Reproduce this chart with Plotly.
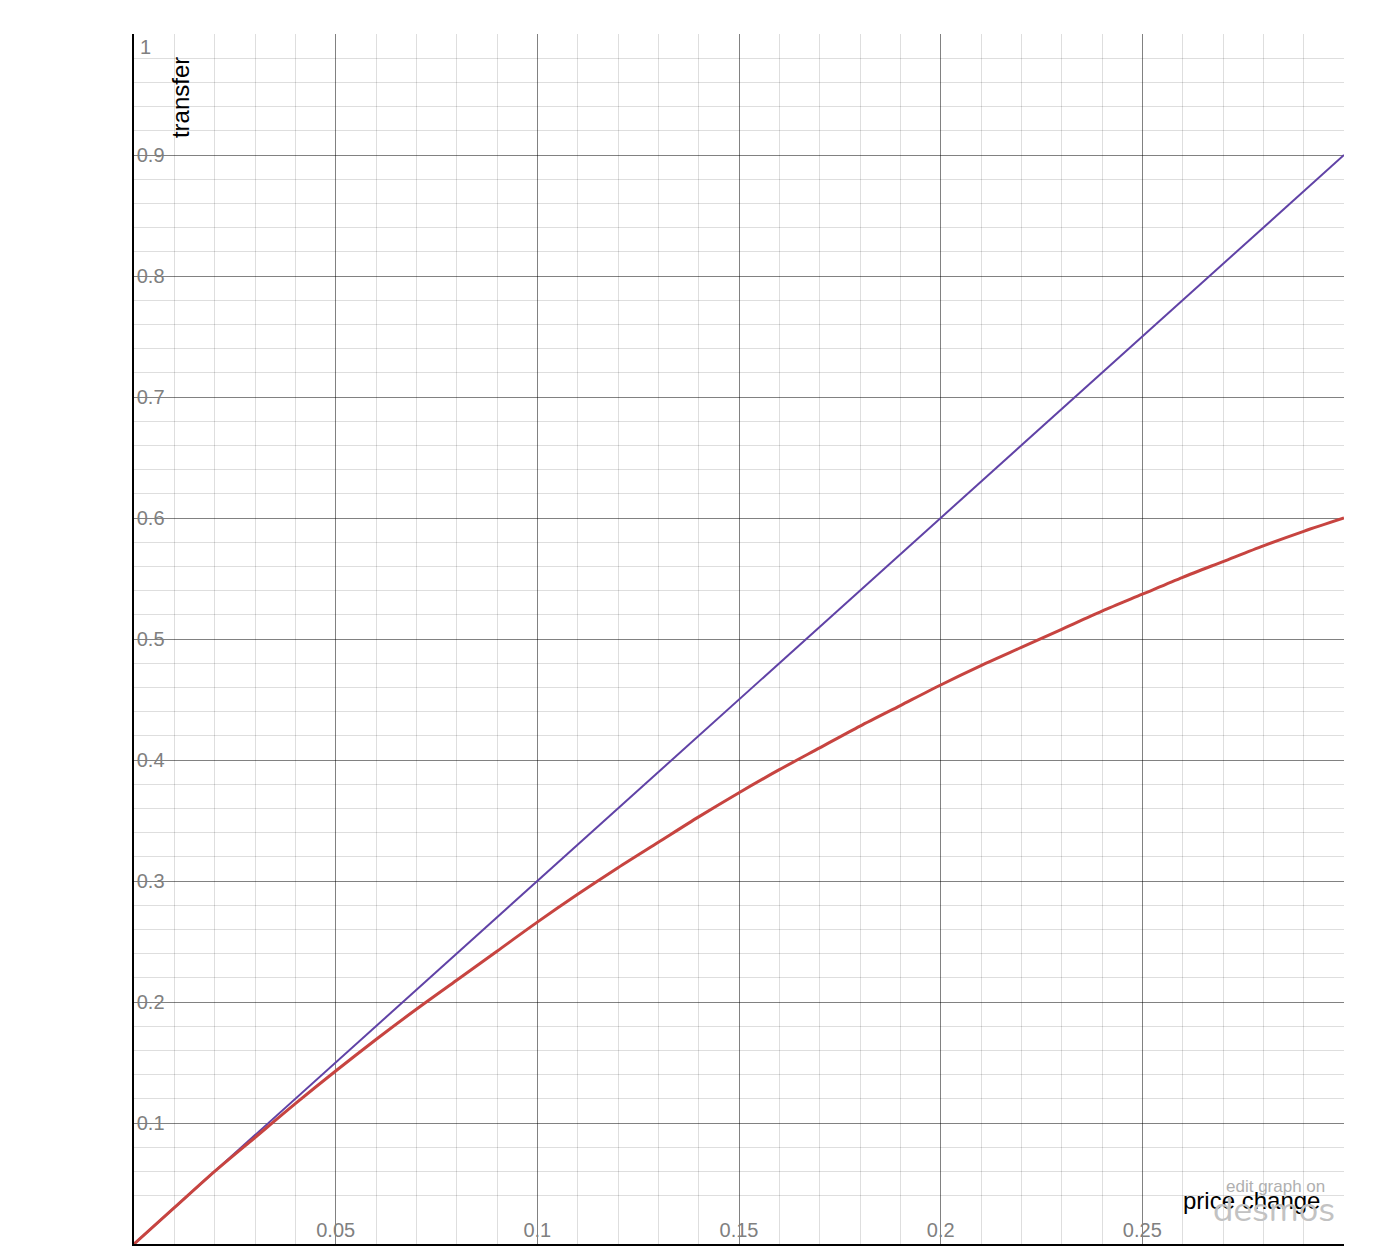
import plotly.graph_objects as go

# Data
red_x = [0.00, 0.01, 0.02, 0.03, 0.04, 0.05, 0.06, 0.07, 0.08, 0.09, 0.10,
         0.11, 0.12, 0.13, 0.14, 0.15, 0.16, 0.17, 0.18, 0.19, 0.20,
         0.21, 0.22, 0.23, 0.24, 0.25, 0.26, 0.27, 0.28, 0.29, 0.30]
red_y = [0.000, 0.030, 0.060, 0.088, 0.116, 0.143, 0.169, 0.194, 0.218, 0.242, 0.266,
         0.289, 0.311, 0.332, 0.353, 0.373, 0.392, 0.410, 0.428, 0.445, 0.462,
         0.478, 0.493, 0.508, 0.523, 0.537, 0.551, 0.564, 0.577, 0.589, 0.600]
blue_x = [0.0, 0.1, 0.2, 0.3]
blue_y = [0.0, 0.3, 0.6, 0.9]

x_ticks = [0.05, 0.10, 0.15, 0.20, 0.25]
x_labels = ["0.05", "0.1", "0.15", "0.2", "0.25"]
y_ticks = [0.1, 0.2, 0.3, 0.4, 0.5, 0.6, 0.7, 0.8, 0.9]
y_labels = ["0.1", "0.2", "0.3", "0.4", "0.5", "0.6", "0.7", "0.8", "0.9"]

FONT = "Arial, Liberation Sans, sans-serif"
MAJOR = "rgba(0,0,0,0.42)"
MINOR = "rgba(0,0,0,0.13)"
TICKC = "#808080"

fig = go.Figure()
fig.add_trace(go.Scatter(x=blue_x, y=blue_y, mode="lines",
                         line=dict(color="#6042a6", width=2), hoverinfo="skip"))
fig.add_trace(go.Scatter(x=red_x, y=red_y, mode="lines", line_shape="spline",
                         line=dict(color="#c74440", width=3, smoothing=0.8),
                         hoverinfo="skip"))

fig.update_layout(
    width=1400, height=1260,
    margin=dict(l=126, r=64, t=26, b=24),
    paper_bgcolor="white", plot_bgcolor="white",
    showlegend=False,
    font=dict(family=FONT),
    xaxis=dict(range=[0, 0.3], tickmode="array", tickvals=x_ticks, ticktext=x_labels,
               ticklabelposition="inside", ticks="", ticklabelstandoff=4,
               tickfont=dict(size=20, color=TICKC),
               showgrid=True, gridcolor=MAJOR, gridwidth=1,
               minor=dict(tickmode="linear", tick0=0, dtick=0.01, showgrid=True,
                          gridcolor=MINOR, gridwidth=1),
               zeroline=False, showline=True, linecolor="black", linewidth=1.5,
               fixedrange=True),
    yaxis=dict(range=[0, 1], tickmode="array", tickvals=y_ticks, ticktext=y_labels,
               ticklabelposition="inside", ticks="", ticklabelstandoff=4,
               tickfont=dict(size=20, color=TICKC),
               showgrid=True, gridcolor=MAJOR, gridwidth=1,
               minor=dict(tickmode="linear", tick0=0, dtick=0.02, showgrid=True,
                          gridcolor=MINOR, gridwidth=1),
               zeroline=False, showline=True, linecolor="black", linewidth=1.5,
               fixedrange=True),
)

fig.add_annotation(x=0.0, y=0.989, xref="x", yref="y", text="1", showarrow=False,
                   xanchor="left", yanchor="middle", xshift=4,
                   font=dict(size=20, color=TICKC, family=FONT))
fig.add_annotation(x=0.0114, y=0.983, xref="x", yref="y", text="transfer", showarrow=False,
                   textangle=-90, xanchor="center", yanchor="top",
                   font=dict(size=24, color="black", family=FONT))
fig.add_annotation(x=0.2946, y=0.0356, xref="x", yref="y", text="price change",
                   showarrow=False, xanchor="right", yanchor="middle",
                   font=dict(size=24, color="black", family=FONT))
fig.add_annotation(x=(1275 - 134) / 1210, y=(1244 - 1186) / 1210, xref="paper",
                   yref="paper", text="edit graph on", showarrow=False,
                   xanchor="center", yanchor="middle",
                   font=dict(size=17, color="#b0b0b0", family=FONT))
fig.add_annotation(x=(1274 - 134) / 1210, y=(1244 - 1209) / 1210, xref="paper",
                   yref="paper", text="desmos", showarrow=False,
                   xanchor="center", yanchor="middle",
                   font=dict(size=35, color="#c2c2c2", family="Nunito, Lato, Open Sans, sans-serif"))

fig.write_html("out.html")
